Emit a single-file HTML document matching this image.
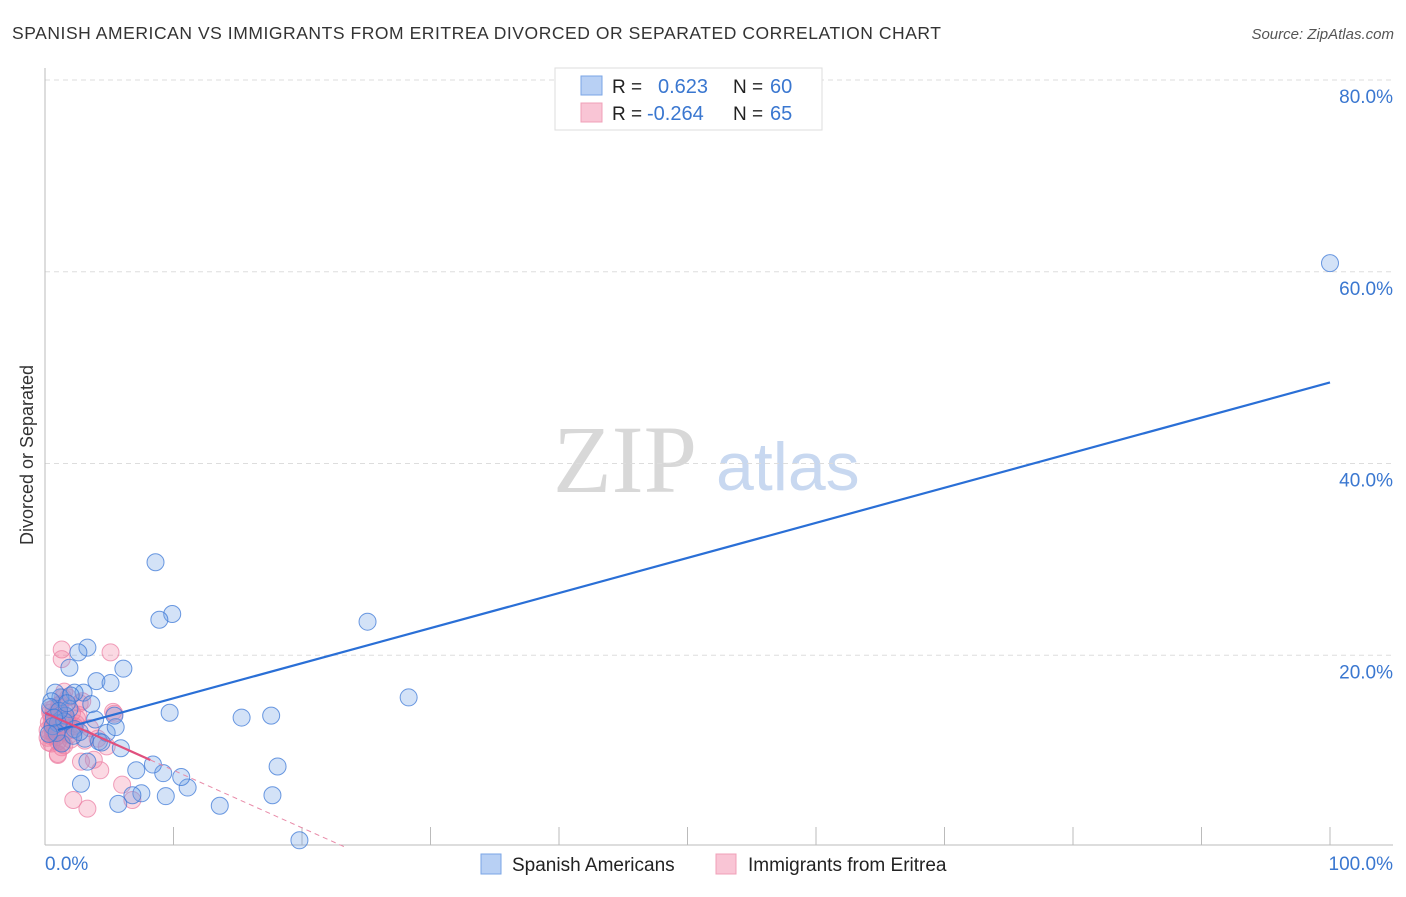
<!DOCTYPE html>
<html><head><meta charset="utf-8"><style>
body{margin:0;background:#fff;font-family:"Liberation Sans",sans-serif;}
svg text{font-family:"Liberation Sans",sans-serif;}
</style></head><body>
<svg width="1406" height="892" viewBox="0 0 1406 892">
<text x="12" y="39" font-size="17.5" fill="#333" textLength="929">SPANISH AMERICAN VS IMMIGRANTS FROM ERITREA DIVORCED OR SEPARATED CORRELATION CHART</text>
<text x="1394" y="39" font-size="15" fill="#555" font-style="italic" text-anchor="end">Source: ZipAtlas.com</text>
<g>
<text x="553" y="492" font-size="96" fill="#d8d8d8" font-family="Liberation Serif,serif" style="font-family:'Liberation Serif',serif">ZIP</text>
<text x="716" y="490" font-size="68" fill="#c8d8f0">atlas</text>
</g>
<g id="grid"></g>
<g id="axes"></g>
<g id="marks"></g>
<text transform="translate(33,455) rotate(-90)" font-size="18" fill="#333" text-anchor="middle">Divorced or Separated</text>
<g>
<rect x="555" y="68" width="267" height="62" fill="#fff" stroke="#ddd"/>
<rect x="581" y="76" width="21" height="19" fill="#b8d0f4" stroke="#7aa5e6"/>
<rect x="581" y="103" width="21" height="19" fill="#f9c5d5" stroke="#f0a0b8"/>
<text x="612" y="93" font-size="19" fill="#222">R =</text>
<text x="658" y="93" font-size="20" fill="#3a77d0">0.623</text>
<text x="733" y="93" font-size="19" fill="#222">N =</text>
<text x="770" y="93" font-size="20" fill="#3a77d0">60</text>
<text x="612" y="120" font-size="19" fill="#222">R =</text>
<text x="647" y="120" font-size="20" fill="#3a77d0">-0.264</text>
<text x="733" y="120" font-size="19" fill="#222">N =</text>
<text x="770" y="120" font-size="20" fill="#3a77d0">65</text>
</g>
<g>
<rect x="481" y="854" width="20" height="20" fill="#b8d0f4" stroke="#7aa5e6"/>
<text x="512" y="871" font-size="19" fill="#222">Spanish Americans</text>
<rect x="716" y="854" width="20" height="20" fill="#f9c5d5" stroke="#f0a0b8"/>
<text x="748" y="871" font-size="19" fill="#222">Immigrants from Eritrea</text>
</g>
</svg>
<script>
const yTicks=[20,40,60,80];
const yTickLabels=["20.0%","40.0%","60.0%","80.0%"];
const xTickLabels=["0.0%","100.0%"];
const blueX=[100,8.6,9.9,8.9,25.1,28.3,3.3,2.6,1.9,6.1,4.0,5.1,9.7,15.3,17.6,18.1,17.7,13.6,19.8,11.1,10.6,9.4,9.2,8.4,7.5,6.8,7.1,5.7,2.8,3.3,5.9,4.2,4.8,5.5,5.4,3.0,2.3,1.2,0.8,0.5,1.9,1.6,1.0,2.3,3.1,1.3,0.6,0.4,2.0,1.5,0.9,3.6,2.7,1.1,0.7,4.4,2.2,1.7,3.9,0.3];
const blueY=[60.9,29.7,24.3,23.7,23.5,15.6,20.8,20.3,18.7,18.6,17.3,17.1,14.0,13.5,13.7,8.4,5.4,4.3,0.7,6.2,7.3,5.3,7.7,8.6,5.6,5.4,8.0,4.5,6.6,8.9,10.3,11.0,11.9,12.5,13.7,16.1,16.1,15.6,16.1,15.2,14.4,13.7,12.9,12.3,11.3,10.8,12.6,14.6,15.8,13.1,11.9,14.9,12.0,14.2,13.5,10.9,11.6,15.0,13.3,11.8];
const pinkX=[1.3,1.3,5.1,2.2,3.3,6.0,6.8,4.3,2.8,1.0,5.3,1.5,0.5,0.8,1.2,1.8,2.1,0.4,0.6,1.0,1.4,2.5,2.9,0.3,0.7,1.1,1.6,2.0,0.5,0.9,1.3,1.7,2.3,0.2,0.6,1.0,1.4,3.5,4.1,0.4,0.8,1.2,1.9,2.6,0.3,0.7,1.5,2.4,3.1,0.5,0.9,1.1,1.8,0.2,0.6,1.3,2.2,4.8,3.8,1.0,0.4,2.7,1.6,0.8,5.4];
const pinkY=[20.6,19.6,20.3,4.9,4.0,6.5,4.9,8.0,8.9,9.7,14.1,16.2,12.8,13.5,14.9,15.6,14.0,11.6,12.3,11.0,12.8,13.4,15.2,13.0,14.5,13.9,12.0,11.2,10.8,11.5,10.4,13.3,12.6,12.2,11.9,14.2,15.6,12.4,11.3,14.0,13.1,12.5,11.7,13.8,10.9,11.6,10.6,12.9,11.1,13.6,12.1,14.8,13.0,11.4,12.7,10.9,12.2,10.5,9.1,9.6,14.3,15.0,13.6,12.9,13.9];
const blueTrend=[11.85,0.366];
const pinkTrend=[14.0,-0.6];
const X0=45,X1=1330,Y0=847,YS=9.5875;
const sx=v=>X0+v*(X1-X0)/100;
const sy=v=>Y0-v*YS;
const NS="http://www.w3.org/2000/svg";
function mk(tag,attrs,parent){const e=document.createElementNS(NS,tag);for(const k in attrs)e.setAttribute(k,attrs[k]);parent.appendChild(e);return e;}
const grid=document.getElementById('grid'),axes=document.getElementById('axes'),marks=document.getElementById('marks');
yTicks.forEach((t,i)=>{
 const l=mk('line',{x1:45,x2:1393,y1:sy(t),y2:sy(t),stroke:'#ddd','stroke-dasharray':'5,4'},grid);
 
 
 const tx=mk('text',{x:1393,y:sy(t)+23,'font-size':19,fill:'#3a77d0','text-anchor':'end'},axes);
 tx.textContent=yTickLabels[i];
 
 
});
const ax=mk('line',{x1:45,x2:1393,y1:845,y2:845,stroke:'#bbb'},axes);


const ay=mk('line',{x1:45,x2:45,y1:68,y2:845,stroke:'#bbb'},axes);


for(let i=1;i<=10;i++){
 const t=mk('line',{x1:sx(i*10),x2:sx(i*10),y1:827,y2:845,stroke:'#bbb'},axes);
 
 
}
const xl0=mk('text',{x:45,y:870,'font-size':19,fill:'#3a77d0'},axes);
xl0.textContent=xTickLabels[0];


const xl1=mk('text',{x:1393,y:870,'font-size':19,fill:'#3a77d0','text-anchor':'end'},axes);
xl1.textContent=xTickLabels[1];


pinkX.forEach((v,i)=>{
 const c=mk('circle',{cx:sx(v),cy:sy(pinkY[i]),r:8.5,fill:'rgba(240,120,155,0.28)',stroke:'rgba(236,130,165,0.75)','stroke-width':1},marks);
 
 
});
blueX.forEach((v,i)=>{
 const c=mk('circle',{cx:sx(v),cy:sy(blueY[i]),r:8.5,fill:'rgba(110,160,230,0.3)',stroke:'rgba(60,120,215,0.75)','stroke-width':1},marks);
 
 
});
const bl=mk('line',{x1:sx(1),y1:sy(blueTrend[0]+blueTrend[1]*1),x2:sx(100),y2:sy(blueTrend[0]+blueTrend[1]*100),stroke:'#2a6fd6','stroke-width':2.2},marks);


const xEnd=8.2, xZero=-pinkTrend[0]/pinkTrend[1];
const pl=mk('line',{x1:sx(0),y1:sy(pinkTrend[0]),x2:sx(xEnd),y2:sy(pinkTrend[0]+pinkTrend[1]*xEnd),stroke:'#e0507e','stroke-width':2.2},marks);


const pd=mk('line',{x1:sx(xEnd),y1:sy(pinkTrend[0]+pinkTrend[1]*xEnd),x2:sx(xZero),y2:sy(0),stroke:'#e88aa8','stroke-width':1,'stroke-dasharray':'5,4'},marks);


</script>
</body></html>
